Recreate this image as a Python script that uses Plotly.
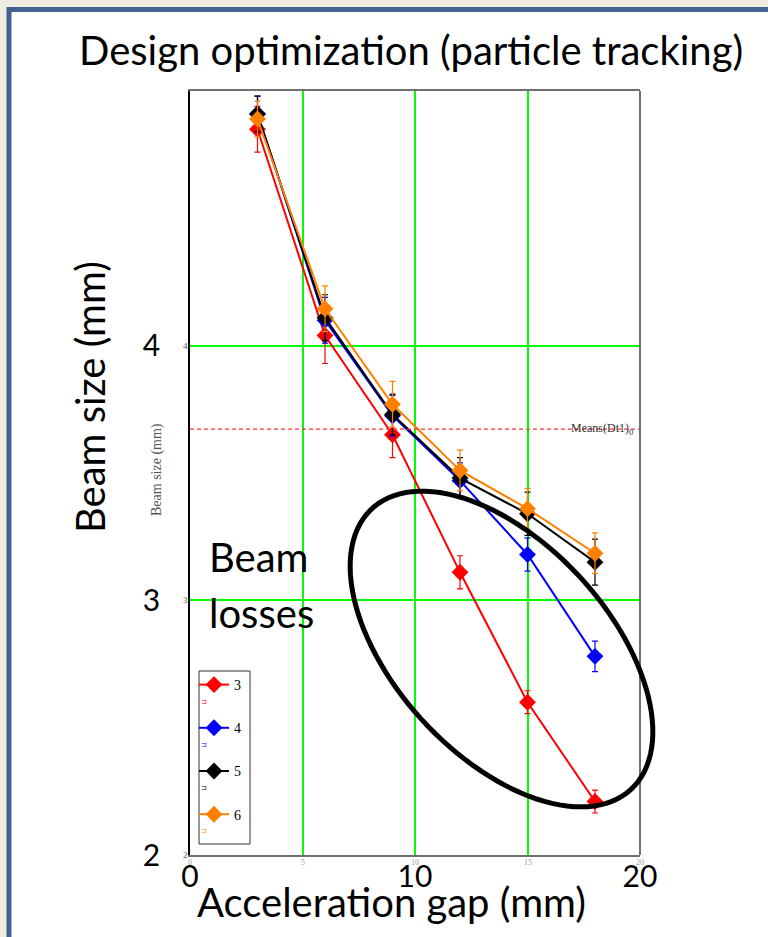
import numpy as np
import plotly.graph_objects as go

# ---- data ----
gap_mm = [3, 6, 9, 12, 15, 18]
series_names = ["3", "4", "5", "6"]
size_3 = [4.85, 4.04, 3.65, 3.11, 2.60, 2.21]
size_4 = [4.91, 4.10, 3.725, 3.47, 3.18, 2.78]
size_5 = [4.91, 4.11, 3.73, 3.48, 3.34, 3.15]
size_6 = [4.89, 4.145, 3.77, 3.51, 3.36, 3.185]
err_3 = [0.09, 0.11, 0.09, 0.065, 0.045, 0.045]
err_4 = [0.07, 0.09, 0.08, 0.07, 0.065, 0.06]
err_5 = [0.07, 0.09, 0.08, 0.08, 0.085, 0.09]
err_6 = [0.07, 0.09, 0.09, 0.08, 0.08, 0.08]
mean_line = 3.672
x_ticks = [0, 10, 20]
y_ticks = [2, 3, 4]
small_x_ticks = [0, 5, 10, 15, 20]

colors = ["#FF0000", "#0000FF", "#000000", "#FF8000"]
values = [size_3, size_4, size_5, size_6]
errors = [err_3, err_4, err_5, err_6]

# ---- layout geometry (pixels) ----
W, H = 768, 937
L, R, T, B = 190, 640, 91, 855


def px(x):
    return (x - L) / (R - L)


def py(y):
    return (B - y) / (B - T)


fig = go.Figure()
for name, col, v, e in zip(series_names, colors, values, errors):
    fig.add_trace(go.Scatter(
        x=gap_mm, y=v, name=name, mode="lines+markers",
        line=dict(color=col, width=2),
        marker=dict(symbol="diamond", size=13, color=col),
        error_y=dict(type="data", array=e, color=col, thickness=1.2, width=3),
        legendgroup=name,
    ))

shapes = []
# slide background with blue frame
shapes.append(dict(type="rect", xref="paper", yref="paper",
                   x0=px(9), x1=px(900), y0=py(1100), y1=py(9.5),
                   line=dict(color="#41638F", width=5), fillcolor="white", layer="below"))
# mean dashed line
shapes.append(dict(type="line", xref="paper", yref="y", x0=0, x1=1,
                   y0=mean_line, y1=mean_line,
                   line=dict(color="#FF3333", width=1.2, dash="4px,3px")))
# right border
shapes.append(dict(type="line", xref="paper", yref="paper", x0=1, x1=1, y0=0, y1=1,
                   line=dict(color="#707070", width=2)))
# legend box
shapes.append(dict(type="rect", xref="paper", yref="paper",
                   x0=px(199), x1=px(250), y0=py(844), y1=py(671),
                   line=dict(color="#333333", width=1), fillcolor="white", layer="above"))
# ellipse highlight
cx, cy, a, b, th = 501.5, 649, 191, 106.5, np.deg2rad(47.3)
t = np.linspace(0, 2 * np.pi, 120)
ex = cx + a * np.cos(t) * np.cos(th) - b * np.sin(t) * np.sin(th)
ey = cy + a * np.cos(t) * np.sin(th) + b * np.sin(t) * np.cos(th)
path = "M " + " L ".join(f"{px(X):.5f},{py(Y):.5f}" for X, Y in zip(ex, ey)) + " Z"
shapes.append(dict(type="path", xref="paper", yref="paper", path=path,
                   line=dict(color="black", width=5)))

ann = []
SANS = "Lato"
SERIF = "Liberation Serif"


def note(text, x, y, size, family=SANS, color="black", xref="paper", yref="paper",
         xanchor="center", angle=0):
    ann.append(dict(text=text, x=x, y=y, xref=xref, yref=yref, showarrow=False,
                    xanchor=xanchor, yanchor="middle", textangle=angle,
                    font=dict(family=family, size=size, color=color)))


note("Design optimization (particle tracking)", px(411), py(50), 40)
note("Beam size (mm)", px(90), py(397), 40, angle=-90)
note("Acceleration gap (mm)", px(391), py(902), 40)
note("Beam", px(207), py(557), 40, xanchor="left")
note("losses", px(207), py(613), 40, xanchor="left")
note("Means(Dt1)<sub>0</sub>", px(602), mean_line, 12, family=SERIF, color="#333333", yref="y")
note("Beam size (mm)", px(157), py(470), 14, family=SERIF, color="#555555", angle=-90)
for v in y_ticks:
    note(str(v), px(185), v, 9, family=SERIF, color="#555555", yref="y")
for v in small_x_ticks:
    note(str(v), v, py(863), 8, family=SERIF, color="#999999", xref="x")
# legend error-bar markers (small brackets under each entry)
for i, col in enumerate(colors):
    note("⊐", px(204), py(702 + 43 * i), 7, family="DejaVu Sans", color=col)

fig.update_layout(
    width=W, height=H,
    margin=dict(l=L, r=W - R, t=T, b=H - B),
    paper_bgcolor="#EEECE1", plot_bgcolor="white",
    shapes=shapes, annotations=ann,
    showlegend=True,
    legend=dict(x=px(194), y=py(669), xanchor="left", yanchor="top",
                bgcolor="rgba(0,0,0,0)", borderwidth=0,
                font=dict(family=SERIF, size=14, color="black"),
                tracegroupgap=22, itemwidth=30),
    xaxis=dict(range=[0, 20], tickvals=x_ticks, ticks="", showgrid=True,
               gridcolor="#00FF00", gridwidth=2, zeroline=False,
               showline=True, linecolor="#707070", linewidth=2, mirror=True,
               minor=dict(dtick=5, showgrid=True, gridcolor="#00FF00", gridwidth=2),
               tickfont=dict(family=SANS, size=30, color="black"), ticklabelstandoff=-6),
    yaxis=dict(range=[2, 5], tickvals=y_ticks, ticks="", showgrid=True,
               gridcolor="#00FF00", gridwidth=2, zeroline=False,
               showline=True, linecolor="black", linewidth=1.5,
               tickfont=dict(family=SANS, size=30, color="black"), ticklabelstandoff=22),
)

fig.write_html("out.html", config={"displayModeBar": False},
               post_script="document.body.style.margin='0';document.body.style.overflow='hidden';")
